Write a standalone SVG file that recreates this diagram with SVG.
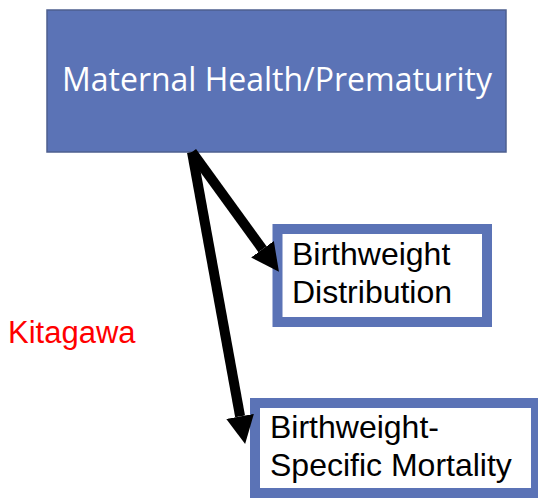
<svg xmlns="http://www.w3.org/2000/svg" width="538" height="498" viewBox="0 0 538 498">
<style>
.top{fill:#5b73b6;stroke:#4d5f8f;stroke-width:1.5}
.box{fill:#ffffff;stroke:#5b73b6;stroke-width:10}
.t1{font-family:"Open Sans","Noto Sans",sans-serif;font-size:32px;fill:#ffffff}
.t2{font-family:"Liberation Sans",Arial,sans-serif;font-size:32px;fill:#000000}
.red{font-family:"Liberation Sans",Arial,sans-serif;font-size:31px;fill:#ff0000}
.conn{stroke:#000000;stroke-width:10;fill:none;stroke-linecap:butt;stroke-linejoin:miter}
</style>
<defs>
<marker id="ah" markerUnits="userSpaceOnUse" viewBox="0 0 28 28" refX="0" refY="14" markerWidth="28" markerHeight="28" orient="auto">
<path d="M0,0 L28,14 L0,28 Z" fill="#000000"/>
</marker>
</defs>
<rect width="538" height="498" fill="#ffffff"/>
<g id="node-maternal">
<rect class="top" x="47" y="10" width="459" height="142"/>
<text class="t1" x="62" y="91" textLength="430" lengthAdjust="spacingAndGlyphs">Maternal Health/Prematurity</text>
</g>
<g id="node-distribution">
<rect class="box" x="277.5" y="229" width="209.5" height="93"/>
<text class="t2" x="292" y="265">Birthweight</text>
<text class="t2" x="292" y="303">Distribution</text>
</g>
<g id="node-mortality">
<rect class="box" x="255" y="403" width="281" height="90"/>
<text class="t2" x="270" y="438">Birthweight-</text>
<text class="t2" x="270" y="476">Specific Mortality</text>
</g>
<g id="label-kitagawa">
<text class="red" x="8" y="343">Kitagawa</text>
</g>
<g id="connectors">
<path class="conn" d="M192,152 L262.5,249.2" marker-end="url(#ah)"/>
<path class="conn" d="M192,152 L240.1,416.4" marker-end="url(#ah)"/>
</g>
</svg>
